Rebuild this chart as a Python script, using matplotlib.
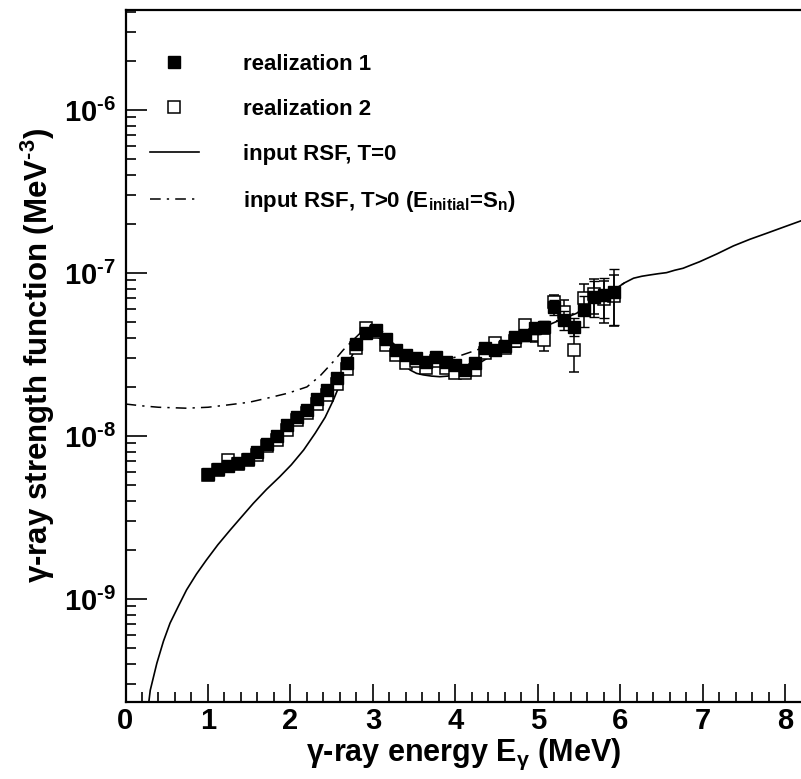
import numpy as np
import matplotlib
matplotlib.use("Agg")
import matplotlib.pyplot as plt
from matplotlib.lines import Line2D
from matplotlib.ticker import FixedLocator, MultipleLocator, LogLocator, NullFormatter

plt.rcParams['font.family'] = ['Liberation Sans', 'DejaVu Sans']
plt.rcParams['font.weight'] = 'bold'
plt.rcParams['mathtext.fontset'] = 'custom'
plt.rcParams['mathtext.rm'] = 'Liberation Sans:bold'
plt.rcParams['mathtext.bf'] = 'Liberation Sans:bold'
plt.rcParams['mathtext.it'] = 'Liberation Sans:bold'
plt.rcParams['mathtext.sf'] = 'Liberation Sans:bold'
plt.rcParams['mathtext.default'] = 'rm'

# ---------------- data ----------------
energy = [1.00, 1.12, 1.24, 1.36, 1.48, 1.60, 1.72, 1.84, 1.96, 2.08,
          2.20, 2.32, 2.44, 2.56, 2.68, 2.80, 2.92, 3.04, 3.16, 3.28,
          3.40, 3.52, 3.64, 3.76, 3.88, 4.00, 4.12, 4.24, 4.36, 4.48,
          4.60, 4.72, 4.84, 4.96, 5.08, 5.20, 5.32, 5.44, 5.56, 5.68,
          5.80, 5.92]

real1 = [5.85e-9, 6.28e-9, 6.55e-9, 6.82e-9, 7.23e-9, 7.98e-9, 8.93e-9, 1.00e-8, 1.167e-8, 1.31e-8,
         1.445e-8, 1.68e-8, 1.91e-8, 2.26e-8, 2.82e-8, 3.66e-8, 4.27e-8, 4.47e-8, 3.92e-8, 3.37e-8,
         3.16e-8, 3.00e-8, 2.86e-8, 3.07e-8, 2.86e-8, 2.73e-8, 2.54e-8, 2.79e-8, 3.45e-8, 3.37e-8,
         3.55e-8, 4.06e-8, 4.17e-8, 4.58e-8, 4.69e-8, 6.21e-8, 5.15e-8, 4.69e-8, 5.93e-8, 7.16e-8,
         7.33e-8, 7.67e-8]
real1_err = [0.10e-9, 0.10e-9, 0.12e-9, 0.12e-9, 0.13e-9, 0.15e-9, 0.17e-9, 0.2e-9, 0.25e-9, 0.3e-9,
             0.35e-9, 0.4e-9, 0.5e-9, 0.6e-9, 0.8e-9, 1.0e-9, 1.2e-9, 1.2e-9, 1.1e-9, 1.0e-9,
             1.0e-9, 1.0e-9, 1.0e-9, 1.1e-9, 1.1e-9, 1.1e-9, 1.1e-9, 1.3e-9, 1.8e-9, 2.0e-9,
             2.5e-9, 3.0e-9, 3.2e-9, 3.5e-9, 4.0e-9, 6.5e-9, 7.0e-9, 6.0e-9, 1.3e-8, 1.8e-8,
             2.0e-8, 2.9e-8]

real2 = [5.75e-9, 6.17e-9, 7.13e-9, 6.76e-9, 7.08e-9, 7.59e-9, 8.71e-9, 9.44e-9, 1.09e-8, 1.26e-8,
         1.38e-8, 1.58e-8, 1.78e-8, 2.09e-8, 2.57e-8, 3.47e-8, 4.57e-8, 4.37e-8, 3.63e-8, 3.16e-8,
         2.79e-8, 2.88e-8, 2.60e-8, 2.88e-8, 2.63e-8, 2.44e-8, 2.45e-8, 2.54e-8, 3.24e-8, 3.72e-8,
         3.47e-8, 3.80e-8, 4.79e-8, 4.17e-8, 3.89e-8, 6.67e-8, 5.79e-8, 3.37e-8, 7.03e-8, 7.41e-8,
         6.92e-8, 7.24e-8]
real2_err = [0.10e-9, 0.10e-9, 0.12e-9, 0.12e-9, 0.13e-9, 0.15e-9, 0.17e-9, 0.2e-9, 0.25e-9, 0.3e-9,
             0.35e-9, 0.4e-9, 0.5e-9, 0.6e-9, 0.8e-9, 1.0e-9, 1.2e-9, 1.2e-9, 1.1e-9, 1.0e-9,
             1.0e-9, 1.0e-9, 1.0e-9, 1.1e-9, 1.1e-9, 1.1e-9, 1.1e-9, 1.3e-9, 1.8e-9, 2.0e-9,
             2.5e-9, 3.0e-9, 3.5e-9, 4.0e-9, 5.5e-9, 7.0e-9, 1.0e-8, 9.0e-9, 1.5e-8, 1.8e-8,
             2.0e-8, 2.5e-8]

# input RSF, T=0 (solid)
rsf0_E = [0.25, 0.30, 0.38, 0.46, 0.54, 0.64, 0.74, 0.86, 0.98, 1.12, 1.27, 1.41, 1.55, 1.71,
          1.87, 2.01, 2.16, 2.30, 2.42, 2.52, 2.62, 2.72, 2.80, 2.86, 2.91, 2.96, 3.02, 3.08,
          3.16, 3.25, 3.35, 3.45, 3.53, 3.61, 3.71, 3.81, 3.91, 4.01, 4.12, 4.22, 4.32, 4.42,
          4.54, 4.66, 4.78, 4.90, 5.02, 5.15, 5.31, 5.47, 5.61, 5.75, 5.85, 5.95, 6.05, 6.16,
          6.26, 6.36, 6.46, 6.56, 6.66, 6.76, 6.86, 6.96, 7.17, 7.37, 7.57, 7.77, 7.97, 8.19, 8.30]
rsf0 = [1.70e-10, 2.75e-10, 4.03e-10, 5.5e-10, 7.10e-10, 9.0e-10, 1.135e-9, 1.42e-9, 1.73e-9, 2.15e-9,
        2.65e-9, 3.20e-9, 3.86e-9, 4.70e-9, 5.62e-9, 6.65e-9, 8.20e-9, 1.04e-8, 1.30e-8, 1.66e-8,
        2.20e-8, 2.92e-8, 3.52e-8, 3.89e-8, 4.10e-8, 4.17e-8, 4.12e-8, 3.98e-8, 3.70e-8, 3.29e-8,
        2.85e-8, 2.54e-8, 2.42e-8, 2.37e-8, 2.33e-8, 2.31e-8, 2.33e-8, 2.43e-8, 2.55e-8, 2.66e-8,
        2.86e-8, 3.07e-8, 3.30e-8, 3.63e-8, 3.95e-8, 4.27e-8, 4.55e-8, 4.85e-8, 5.25e-8, 5.66e-8,
        6.40e-8, 7.33e-8, 7.80e-8, 8.05e-8, 8.70e-8, 9.29e-8, 9.55e-8, 9.73e-8, 9.90e-8, 1.005e-7,
        1.040e-7, 1.069e-7, 1.12e-7, 1.172e-7, 1.309e-7, 1.466e-7, 1.61e-7, 1.75e-7, 1.905e-7, 2.09e-7,
        2.19e-7]

# input RSF, T>0 (dash-dot)
rsfT_E = [0.00, 0.20, 0.40, 0.74, 1.00, 1.24, 1.50, 1.75, 1.97, 2.20, 2.36, 2.52, 2.64, 2.76,
          2.86, 2.92, 2.98, 3.08, 3.17, 3.30, 3.45, 3.60, 3.85, 4.05, 4.26, 4.42, 4.66, 4.90,
          5.15, 5.47, 5.75, 5.95, 6.05]
rsfT = [1.57e-8, 1.53e-8, 1.50e-8, 1.48e-8, 1.50e-8, 1.55e-8, 1.61e-8, 1.72e-8, 1.83e-8, 2.00e-8,
        2.34e-8, 2.86e-8, 3.37e-8, 3.88e-8, 4.35e-8, 4.68e-8, 4.80e-8, 4.57e-8, 4.07e-8, 3.47e-8,
        3.02e-8, 2.85e-8, 2.89e-8, 3.10e-8, 3.37e-8, 3.63e-8, 3.98e-8, 4.37e-8, 4.90e-8, 5.75e-8,
        7.41e-8, 8.10e-8, 8.70e-8]

ytick_vals = [1e-9, 1e-8, 1e-7, 1e-6]
ytick_labels = [r'10$^{\text{-9}}$', r'10$^{\text{-8}}$', r'10$^{\text{-7}}$', r'10$^{\text{-6}}$']

# ---------------- figure ----------------
fig = plt.figure(figsize=(8.01, 7.79), dpi=100)
ax = fig.add_axes([125.5 / 801, 1 - 701.7 / 779, 675.5 / 801, 691.7 / 779])

ax.plot(rsf0_E, rsf0, color='black', lw=1.2, zorder=2)
ax.plot(rsfT_E, rsfT, color='black', lw=1.1, linestyle=(0, (7, 4, 1.5, 4)), zorder=2)

MS = 8.2
ax.errorbar(energy, real2, yerr=real2_err, fmt='s', ms=MS, mfc='white', mec='black',
            mew=1.1, ecolor='black', elinewidth=1.1, capsize=3.5, capthick=1.1, zorder=3)
ax.errorbar(energy, real1, yerr=real1_err, fmt='s', ms=MS, mfc='black', mec='black',
            mew=1.0, ecolor='black', elinewidth=1.1, capsize=3.5, capthick=1.1, zorder=4)

ax.set_yscale('log')
ax.set_xlim(0, 8.19)
ax.set_ylim(2.34e-10, 4.11e-6)

ax.xaxis.set_major_locator(MultipleLocator(1))
ax.xaxis.set_minor_locator(MultipleLocator(0.2))
ax.yaxis.set_major_locator(FixedLocator(ytick_vals))
ax.yaxis.set_minor_locator(LogLocator(base=10, subs=np.arange(2, 10), numticks=20))
ax.yaxis.set_minor_formatter(NullFormatter())
ax.set_yticklabels(ytick_labels)
ax.set_xticks(range(0, 9))
ax.set_xticklabels([str(i) for i in range(0, 9)])

ax.tick_params(axis='x', which='major', direction='in', length=13, width=1.2, labelsize=21, pad=4,
               top=False, bottom=True)
ax.tick_params(axis='x', which='minor', direction='in', length=7, width=1.2, top=False, bottom=True)
ax.tick_params(axis='y', which='major', direction='in', length=15, width=1.2, labelsize=21, pad=7,
               left=True, right=False)
ax.tick_params(axis='y', which='minor', direction='in', length=7.5, width=1.2, left=True, right=False)
for lab in ax.get_xticklabels() + ax.get_yticklabels():
    lab.set_fontweight('bold')

ax.spines['right'].set_visible(False)
for s in ['left', 'bottom', 'top']:
    ax.spines[s].set_linewidth(1.6)

ax.set_xlabel(r'$\gamma$-ray energy E$_{\gamma}$ (MeV)', fontsize=22, fontweight='bold')
ax.set_ylabel(r'$\gamma$-ray strength function (MeV$^{\text{-3}}$)', fontsize=22.5, fontweight='bold')
ax.xaxis.set_label_coords(0.5, -0.051)
ax.yaxis.set_label_coords(-0.101, 0.5)

handles = [
    Line2D([], [], marker='s', ls='none', ms=MS, mfc='black', mec='black', color='black'),
    Line2D([], [], marker='s', ls='none', ms=MS, mfc='white', mec='black', mew=1.1, color='black'),
    Line2D([], [], color='black', lw=1.2),
    Line2D([], [], color='black', lw=1.1, linestyle=(0, (7, 4, 1.5, 4))),
]
labels = ['realization 1', 'realization 2', 'input RSF, T=0',
          r'input RSF, T>0 (E$_{\text{initial}}$=S$_{\text{n}}$)']
leg = ax.legend(handles, labels, loc='upper left', bbox_to_anchor=(0.036, 0.937),
                frameon=False, fontsize=16, handlelength=2.2, handletextpad=2.0,
                labelspacing=1.08, borderpad=0, borderaxespad=0)
for t in leg.get_texts():
    t.set_fontweight('bold')

fig.savefig('out.png', dpi=100)
